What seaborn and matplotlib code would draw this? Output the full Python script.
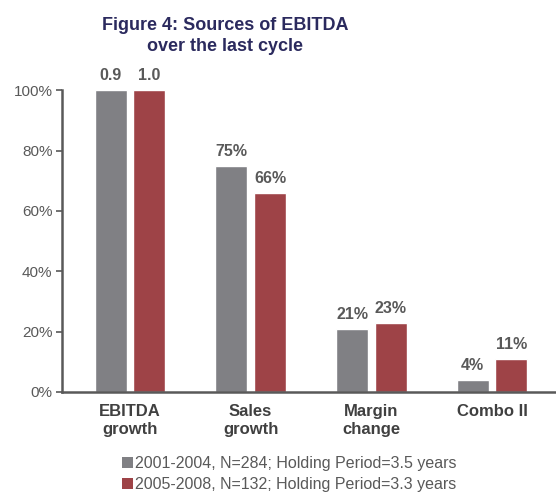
import matplotlib
matplotlib.use('Agg')
import matplotlib.pyplot as plt
import pandas as pd
import seaborn as sns
from matplotlib.patches import Patch

# data
categories = ['EBITDA\ngrowth', 'Sales\ngrowth', 'Margin\nchange', 'Combo II']
series_names = ['2001-2004, N=284; Holding Period=3.5 years',
                '2005-2008, N=132; Holding Period=3.3 years']
values_0104 = [100, 75, 21, 4]
values_0508 = [100, 66, 23, 11]
labels_0104 = ['0.9', '75%', '21%', '4%']
labels_0508 = ['1.0', '66%', '23%', '11%']
yticks = [0, 20, 40, 60, 80, 100]

colors = ['#808084', '#9E4347']

df = pd.DataFrame({
    'category': categories * 2,
    'period': [series_names[0]] * 4 + [series_names[1]] * 4,
    'value': values_0104 + values_0508,
})

sns.set_style('white')
plt.rcParams['font.family'] = ['Liberation Sans', 'DejaVu Sans']

fig = plt.figure(figsize=(5.56, 4.93), dpi=100)
ax = fig.add_axes([0.112, 0.205, 0.886, 0.612])

sns.barplot(data=df, x='category', y='value', hue='period', order=categories,
            hue_order=series_names, palette=colors, width=0.64, gap=0.17,
            ax=ax, legend=False, saturation=1)

# value labels above the bars
for cont, labs in zip(ax.containers, [labels_0104, labels_0508]):
    ax.bar_label(cont, labels=labs, padding=5, fontsize=11.5, fontweight='bold',
                 color='#595959')

ax.set_xlim(-0.56, 3.52)
ax.set_ylim(0, 100)
ax.set_yticks(yticks)
ax.set_yticklabels([f'{t}%' for t in yticks], fontsize=11, color='#595959')
ax.tick_params(axis='y', length=4, width=1.2, color='#595959', left=True, pad=3)
ax.tick_params(axis='x', length=0, pad=9)
for lab in ax.get_xticklabels():
    lab.set_fontweight('bold')
    lab.set_fontsize(12)
    lab.set_color('#404040')
    lab.set_linespacing(1.25)
ax.set_xlabel('')
ax.set_ylabel('')

for side in ['top', 'right']:
    ax.spines[side].set_visible(False)
for side in ['left', 'bottom']:
    ax.spines[side].set_color('#595959')
    ax.spines[side].set_linewidth(1.8)

fig.text(0.405, 0.966, 'Figure 4: Sources of EBITDA\nover the last cycle', ha='center', va='top',
         fontsize=13, fontweight='bold', color='#2B2A5E', linespacing=1.3)

handles = [Patch(facecolor=c, edgecolor='none') for c in colors]
fig.legend(handles, series_names, loc='center', bbox_to_anchor=(0.52, 0.038),
           frameon=False, fontsize=11.5, handlelength=0.7, handleheight=0.7,
           handletextpad=0.15, labelspacing=0.4, labelcolor='#595959')

fig.savefig('out.png', dpi=100)
